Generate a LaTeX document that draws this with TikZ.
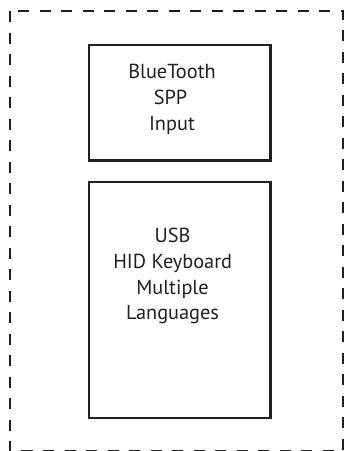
\documentclass[tikz,border=0pt]{standalone}
\usepackage{fontspec}
\setmainfont{PT Sans}
\definecolor{ink}{HTML}{231F20}
\begin{document}
\begin{tikzpicture}[x=1pt,y=-1pt,
  boxline/.style={draw=ink,line width=2.2pt,inner sep=0pt,minimum width=181.5pt},
  outer/.style={draw=ink,line width=2pt,dash pattern=on 11pt off 10.5pt},
  lbl/.style={anchor=base,inner sep=0pt,text=ink,font=\fontsize{20.3}{24}\selectfont}]
\useasboundingbox (0,0) rectangle (346,451);
\draw[outer] (9.5,11) rectangle (343,450.5);
\node[boxline,minimum height=115.5pt] (bt) at (179.75,102.75) {};
\node[boxline,minimum height=236pt] (usb) at (179.75,300) {};
\node[lbl] (t1) at (172,78) {BlueTooth};
\node[lbl] (t2) at (170.5,104.5) {SPP};
\node[lbl] (t3) at (172,130.5) {Input};
\node[lbl] (t4) at (172.5,242.7) {USB};
\node[lbl] (t5) at (172.7,268.3) {HID Keyboard};
\node[lbl] (t6) at (172.5,294.3) {Multiple};
\node[lbl] (t7) at (172.5,319.5) {Languages};
\end{tikzpicture}
\end{document}
